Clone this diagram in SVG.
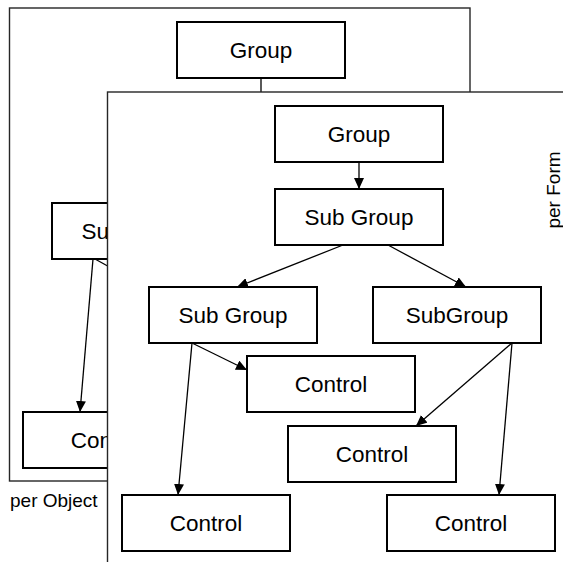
<svg xmlns="http://www.w3.org/2000/svg" width="563" height="562" viewBox="0 0 563 562">
  <style>
    .panel { fill: #ffffff; stroke: #262626; stroke-width: 1.4; }
    .node rect { fill: #ffffff; stroke: #000000; stroke-width: 2; }
    .node text { font-family: "Liberation Sans", Arial, sans-serif; font-size: 22.5px; fill: #000000; text-anchor: middle; }
    .caption { font-family: "Liberation Sans", Arial, sans-serif; font-size: 19px; fill: #000000; }
    .link { fill: none; stroke: #000000; stroke-width: 1.3; }
    .arrow { marker-end: url(#head); }
  </style>
  <defs>
    <marker id="head" markerUnits="userSpaceOnUse" markerWidth="11" markerHeight="10" refX="11" refY="5" orient="auto">
      <path d="M0,0 L11,5 L0,10 z" fill="#000000"/>
    </marker>
  </defs>

  <!-- back layer: per Object -->
  <g id="layer-object">
    <rect class="panel" x="9.5" y="8" width="460.5" height="473"/>
    <text class="caption" x="10" y="507">per Object</text>
    <g id="obj-connectors">
      <line class="link" x1="261" y1="78" x2="261" y2="120"/>
      <line class="link arrow" x1="93" y1="259" x2="80" y2="412"/>
      <line class="link" x1="95" y1="259" x2="140" y2="284"/>
    </g>
    <g id="obj-group" class="node">
      <rect x="177" y="22" width="168" height="56"/>
      <text x="261" y="58">Group</text>
    </g>
    <g id="obj-subgroup" class="node">
      <rect x="52" y="203" width="168" height="56"/>
      <text x="136" y="239">Sub Group</text>
    </g>
    <g id="obj-control" class="node">
      <rect x="23" y="412" width="168" height="56"/>
      <text x="107" y="448">Control</text>
    </g>
  </g>

  <!-- front layer: per Form -->
  <g id="layer-form">
    <rect class="panel" x="107.5" y="92" width="470" height="480"/>
    <text class="caption" transform="translate(560 190) rotate(-90)" text-anchor="middle">per Form</text>

    <g id="connectors">
      <line class="link arrow" x1="359" y1="162" x2="359" y2="189"/>
      <line class="link arrow" x1="343" y1="245" x2="237" y2="287"/>
      <line class="link arrow" x1="388" y1="245" x2="466" y2="287"/>
      <line class="link arrow" x1="192" y1="343" x2="247" y2="370"/>
      <line class="link arrow" x1="192" y1="343" x2="178" y2="495"/>
      <line class="link arrow" x1="512" y1="343" x2="416" y2="426"/>
      <line class="link arrow" x1="512" y1="343" x2="499" y2="495"/>
    </g>

    <g id="group" class="node">
      <rect x="275" y="106" width="168" height="56"/>
      <text x="359" y="142">Group</text>
    </g>
    <g id="sub-group" class="node">
      <rect x="275" y="189" width="168" height="56"/>
      <text x="359" y="225">Sub Group</text>
    </g>
    <g id="sub-group-left" class="node">
      <rect x="149" y="287" width="168" height="56"/>
      <text x="233" y="323">Sub Group</text>
    </g>
    <g id="sub-group-right" class="node">
      <rect x="373" y="287" width="168" height="56"/>
      <text x="457" y="323">SubGroup</text>
    </g>
    <g id="control-middle" class="node">
      <rect x="247" y="356" width="168" height="56"/>
      <text x="331" y="392">Control</text>
    </g>
    <g id="control-right" class="node">
      <rect x="288" y="426" width="168" height="56"/>
      <text x="372" y="462">Control</text>
    </g>
    <g id="control-bottom-left" class="node">
      <rect x="122" y="495" width="168" height="56"/>
      <text x="206" y="531">Control</text>
    </g>
    <g id="control-bottom-right" class="node">
      <rect x="387" y="495" width="168" height="56"/>
      <text x="471" y="531">Control</text>
    </g>
  </g>
</svg>
